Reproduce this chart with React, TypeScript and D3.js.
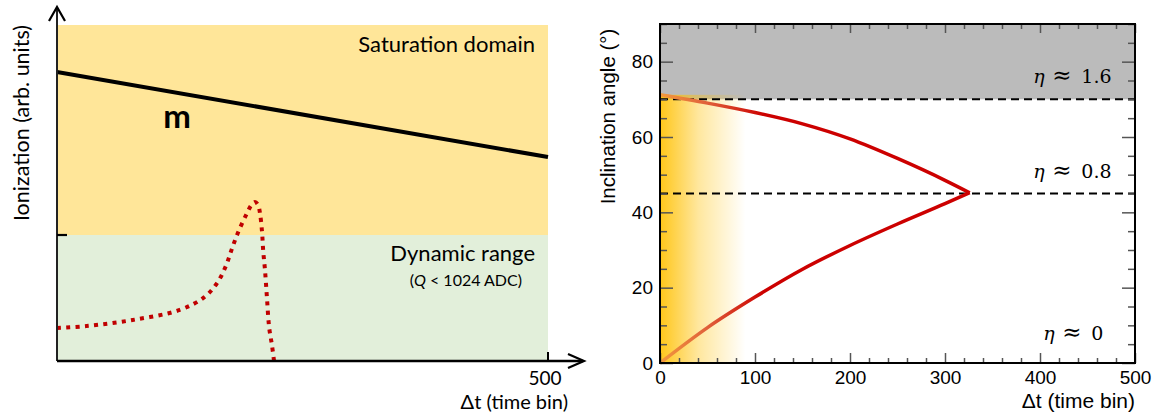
import React, { useEffect, useRef } from "react";
import * as d3 from "d3";

// left panel: sketch of ionization vs. time
const sketchTicks = [500];
const mipTime = [0, 500];
const mipIonization = [86, 60.7];
const saturationLevel = 37.5;
const pulseTime = [0, 30, 77, 125, 150, 163, 172, 178, 185, 193.5, 198, 201.6, 204.7, 206.7, 208.8, 210, 211.8, 213.8, 216, 219, 221];
const pulseIonization = [9.8, 10.4, 12.2, 15.2, 19, 23.2, 28.3, 33.3, 38.7, 44, 46.4, 47.3, 46.5, 44, 38.4, 32.7, 27.1, 18.8, 10.1, 4.5, 0];

// right panel: inclination angle vs. time
const upperTime = [0, 50, 100, 150, 200, 250, 300, 326];
const upperAngle = [71.2, 69.0, 66.5, 63.5, 59.5, 54.3, 48.5, 45.2];
const lowerTime = [0, 50, 100, 150, 200, 250, 300, 326];
const lowerAngle = [0, 9.4, 17.5, 24.9, 31.2, 36.9, 42.3, 45.2];
const etaLevels = [70, 45];
const etaValues = ["1.6", "0.8", "0"];
const etaLabelAngle = [74.4, 49.2, 6.1];
const etaLabelTime = [393, 393, 403.5];

const Chart = () => {
  const ref = useRef<SVGSVGElement>(null);

  useEffect(() => {
    const svg = d3.select(ref.current);
    svg.selectAll("*").remove();

    const defs = svg.append("defs");

    // ---------- left panel ----------
    const xl = d3.scaleLinear().domain([0, 500]).range([57, 548]);
    const yl = d3.scaleLinear().domain([0, 100]).range([361, 25]);
    const left = svg.append("g").style("font-family", "Lato, 'Open Sans', sans-serif");

    left
      .append("rect")
      .attr("x", xl(0))
      .attr("y", yl(100))
      .attr("width", xl(500) - xl(0))
      .attr("height", yl(saturationLevel) - yl(100))
      .attr("fill", "#ffe699");
    left
      .append("rect")
      .attr("x", xl(0))
      .attr("y", yl(saturationLevel))
      .attr("width", xl(500) - xl(0))
      .attr("height", yl(0) - yl(saturationLevel))
      .attr("fill", "#e2efda");

    const mipLine = d3
      .line<number>()
      .x((d, i) => xl(mipTime[i]))
      .y((d) => yl(d));
    left
      .append("path")
      .attr("d", mipLine(mipIonization))
      .attr("fill", "none")
      .attr("stroke", "#000")
      .attr("stroke-width", 4);

    const pulseLine = d3
      .line<number>()
      .x((d, i) => xl(pulseTime[i]))
      .y((d) => yl(d))
      .curve(d3.curveCatmullRom.alpha(0.5));
    left
      .append("path")
      .attr("d", pulseLine(pulseIonization))
      .attr("fill", "none")
      .attr("stroke", "#c00000")
      .attr("stroke-width", 4)
      .attr("stroke-dasharray", "4,5.3");

    // axes with arrows
    left
      .append("line")
      .attr("x1", xl(0))
      .attr("x2", xl(0))
      .attr("y1", yl(0))
      .attr("y2", 8)
      .attr("stroke", "#222")
      .attr("stroke-width", 2);
    left
      .append("path")
      .attr("d", `M${xl(0) - 8},21L${xl(0)},7L${xl(0) + 8},21`)
      .attr("fill", "none")
      .attr("stroke", "#000")
      .attr("stroke-width", 2.2);
    left
      .append("line")
      .attr("x1", xl(0))
      .attr("x2", 583)
      .attr("y1", yl(0))
      .attr("y2", yl(0))
      .attr("stroke", "#000")
      .attr("stroke-width", 2.4);
    left
      .append("path")
      .attr("d", `M568,${yl(0) - 7}L584,${yl(0)}L568,${yl(0) + 7}`)
      .attr("fill", "none")
      .attr("stroke", "#000")
      .attr("stroke-width", 2.2);
    left
      .append("line")
      .attr("x1", xl(0))
      .attr("x2", xl(0) + 10)
      .attr("y1", yl(saturationLevel))
      .attr("y2", yl(saturationLevel))
      .attr("stroke", "#000")
      .attr("stroke-width", 2.2);

    left
      .selectAll(".xtick")
      .data(sketchTicks)
      .enter()
      .append("line")
      .attr("x1", (d) => xl(d))
      .attr("x2", (d) => xl(d))
      .attr("y1", yl(0) - 9)
      .attr("y2", yl(0))
      .attr("stroke", "#000")
      .attr("stroke-width", 2);
    left
      .selectAll(".xlabel")
      .data(sketchTicks)
      .enter()
      .append("text")
      .attr("x", (d) => xl(d) - 3)
      .attr("y", 385)
      .attr("text-anchor", "middle")
      .style("font-size", "19px")
      .text((d) => d);

    left
      .append("text")
      .attr("x", 568)
      .attr("y", 409)
      .attr("text-anchor", "end")
      .style("font-size", "20px")
      .text("Δt (time bin)");
    left
      .append("text")
      .attr("transform", "translate(29,123) rotate(-90)")
      .attr("text-anchor", "middle")
      .style("font-size", "21.5px")
      .text("Ionization (arb. units)");
    left
      .append("text")
      .attr("x", 535)
      .attr("y", 52)
      .attr("text-anchor", "end")
      .style("font-size", "22px")
      .text("Saturation domain");
    left
      .append("text")
      .attr("x", 535)
      .attr("y", 261)
      .attr("text-anchor", "end")
      .style("font-size", "22px")
      .text("Dynamic range");
    const q = left
      .append("text")
      .attr("x", 522)
      .attr("y", 286)
      .attr("text-anchor", "end")
      .style("font-size", "16px");
    q.append("tspan").text("(");
    q.append("tspan").style("font-style", "italic").text("Q");
    q.append("tspan").text(" < 1024 ADC)");
    left
      .append("text")
      .attr("x", 177)
      .attr("y", 128)
      .attr("text-anchor", "middle")
      .style("font-size", "33px")
      .style("font-weight", "700")
      .text("m");

    // ---------- right panel ----------
    const xr = d3.scaleLinear().domain([0, 500]).range([660, 1135]);
    const yr = d3.scaleLinear().domain([0, 90]).range([363, 24]);
    const right = svg.append("g").style("font-family", "'Liberation Sans', Arial, sans-serif");

    right
      .append("rect")
      .attr("x", xr(0))
      .attr("y", yr(90))
      .attr("width", xr(500) - xr(0))
      .attr("height", yr(etaLevels[0]) - yr(90))
      .attr("fill", "#bbbbbb");

    const yellow = defs
      .append("linearGradient")
      .attr("id", "fade")
      .attr("x1", 0)
      .attr("x2", 1)
      .attr("y1", 0)
      .attr("y2", 0);
    yellow.append("stop").attr("offset", 0).attr("stop-color", "#ffc000").attr("stop-opacity", 0.9);
    yellow.append("stop").attr("offset", 0.45).attr("stop-color", "#ffc000").attr("stop-opacity", 0.38);
    yellow.append("stop").attr("offset", 1).attr("stop-color", "#ffc000").attr("stop-opacity", 0);
    right
      .append("rect")
      .attr("x", xr(0))
      .attr("y", yr(upperAngle[0]))
      .attr("width", xr(90) - xr(0))
      .attr("height", yr(0) - yr(upperAngle[0]))
      .attr("fill", "url(#fade)");

    right
      .selectAll(".eta")
      .data(etaLevels)
      .enter()
      .append("line")
      .attr("x1", xr(0))
      .attr("x2", xr(500))
      .attr("y1", (d) => yr(d))
      .attr("y2", (d) => yr(d))
      .attr("stroke", "#000")
      .attr("stroke-width", 2)
      .attr("stroke-dasharray", "8,5");

    const redFade = defs
      .append("linearGradient")
      .attr("id", "redfade")
      .attr("gradientUnits", "userSpaceOnUse")
      .attr("x1", xr(0))
      .attr("x2", xr(110))
      .attr("y1", 0)
      .attr("y2", 0);
    redFade.append("stop").attr("offset", 0).attr("stop-color", "#f39a3c");
    redFade.append("stop").attr("offset", 0.45).attr("stop-color", "#e0603a");
    redFade.append("stop").attr("offset", 1).attr("stop-color", "#cc0000");

    const upper = d3
      .line<number>()
      .x((d, i) => xr(upperTime[i]))
      .y((d) => yr(d))
      .curve(d3.curveMonotoneX);
    const lower = d3
      .line<number>()
      .x((d, i) => xr(lowerTime[i]))
      .y((d) => yr(d))
      .curve(d3.curveMonotoneX);
    [upper(upperAngle), lower(lowerAngle)].forEach((d) => {
      right
        .append("path")
        .attr("d", d)
        .attr("fill", "none")
        .attr("stroke", "url(#redfade)")
        .attr("stroke-width", 3.5)
        .attr("stroke-linejoin", "miter");
    });

    // ticks pointing inward on all four sides
    const xMajor = xr.ticks(5);
    const xMinor = xr.ticks(25).filter((d) => !xMajor.includes(d));
    const yMajor = yr.ticks(5);
    const yMinor = yr.ticks(18).filter((d) => !yMajor.includes(d));
    const styleAxis = (g: any) => {
      g.select(".domain").remove();
      g.selectAll("line").attr("stroke", "#555").attr("stroke-width", 1.5);
      g.attr("font-family", null).attr("font-size", null);
      g.selectAll("text").style("font-size", "19px").attr("fill", "#000");
    };

    right
      .append("g")
      .attr("transform", `translate(0,${yr(0)})`)
      .call(d3.axisBottom(xr).tickValues(xMajor).tickSize(-10).tickPadding(8).tickFormat(d3.format("d")))
      .call(styleAxis);
    right
      .append("g")
      .attr("transform", `translate(0,${yr(0)})`)
      .call(d3.axisBottom(xr).tickValues(xMinor).tickSize(-5).tickFormat(() => ""))
      .call(styleAxis);
    right
      .append("g")
      .attr("transform", `translate(0,${yr(90)})`)
      .call(d3.axisTop(xr).tickValues(xMajor).tickSize(-9).tickFormat(() => ""))
      .call(styleAxis);
    right
      .append("g")
      .attr("transform", `translate(0,${yr(90)})`)
      .call(d3.axisTop(xr).tickValues(xMinor).tickSize(-5).tickFormat(() => ""))
      .call(styleAxis);
    right
      .append("g")
      .attr("transform", `translate(${xr(0)},0)`)
      .call(d3.axisLeft(yr).tickValues(yMajor).tickSize(-13).tickPadding(7).tickFormat(d3.format("d")))
      .call(styleAxis);
    right
      .append("g")
      .attr("transform", `translate(${xr(0)},0)`)
      .call(d3.axisLeft(yr).tickValues(yMinor).tickSize(-7).tickFormat(() => ""))
      .call(styleAxis);
    right
      .append("g")
      .attr("transform", `translate(${xr(500)},0)`)
      .call(d3.axisRight(yr).tickValues(yMajor).tickSize(-13).tickFormat(() => ""))
      .call(styleAxis);
    right
      .append("g")
      .attr("transform", `translate(${xr(500)},0)`)
      .call(d3.axisRight(yr).tickValues(yMinor).tickSize(-7).tickFormat(() => ""))
      .call(styleAxis);

    right
      .append("rect")
      .attr("x", xr(0))
      .attr("y", yr(90))
      .attr("width", xr(500) - xr(0))
      .attr("height", yr(0) - yr(90))
      .attr("fill", "none")
      .attr("stroke", "#000")
      .attr("stroke-width", 2);

    right
      .append("text")
      .attr("x", xr(500))
      .attr("y", 408)
      .attr("text-anchor", "end")
      .style("font-size", "21px")
      .text("Δt (time bin)");
    right
      .append("text")
      .attr("transform", `translate(615,${(yr(0) + yr(90)) / 2 - 77}) rotate(-90)`)
      .attr("text-anchor", "middle")
      .style("font-size", "20.5px")
      .text("Inclination angle (°)");

    etaValues.forEach((v, i) => {
      const x0 = xr(etaLabelTime[i]);
      const t = right
        .append("text")
        .attr("y", yr(etaLabelAngle[i]))
        .style("font-family", "'DejaVu Serif', serif")
        .style("font-size", "19px");
      t.append("tspan").attr("x", x0).style("font-style", "italic").text("η");
      t.append("tspan").attr("x", x0 + 19).style("font-size", "23px").text("≈");
      t.append("tspan").attr("x", x0 + 48).text(v);
    });
  }, []);

  return (
    <svg
      ref={ref}
      width={1161}
      height={415}
      style={{ position: "absolute", left: 0, top: 0, background: "#fff" }}
    />
  );
};

export default function App() {
  return <Chart />;
}
